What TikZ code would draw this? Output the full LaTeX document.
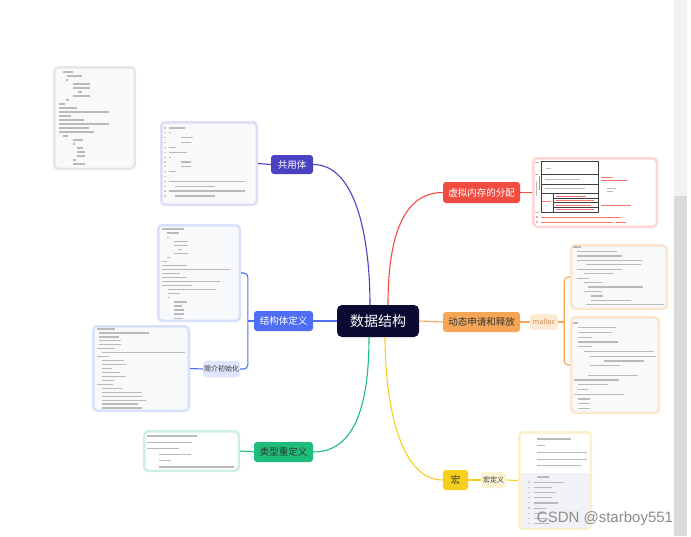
\documentclass[tikz,border=0pt]{standalone}
\usepackage{fontspec}
\setmainfont{Noto Sans CJK SC}
\newfontfamily\wmfont{Liberation Sans}
\definecolor{rootc}{HTML}{0A0A33}
\definecolor{cpur}{HTML}{4B42C3}
\definecolor{cblue}{HTML}{4D6EF5}
\definecolor{cgreen}{HTML}{1EBD7C}
\definecolor{cred}{HTML}{F24B3F}
\definecolor{corange}{HTML}{F5A556}
\definecolor{cyellow}{HTML}{F5D01E}
\definecolor{lblue}{HTML}{E0E6FD}
\definecolor{lorange}{HTML}{FDEBD6}
\definecolor{lyellow}{HTML}{FBF3D2}
\definecolor{bgray}{HTML}{E6E6EA}
\definecolor{bpur}{HTML}{DEDCF6}
\definecolor{bblue}{HTML}{D8E0FB}
\definecolor{bgreen}{HTML}{CFEFE1}
\definecolor{bred}{HTML}{FFD6D6}
\definecolor{borange}{HTML}{FDE6CF}
\definecolor{byellow}{HTML}{FBF1C8}
\definecolor{paper}{HTML}{F8F9FB}
\definecolor{codebg}{HTML}{F1F2F5}
\definecolor{ink}{HTML}{333333}
\definecolor{malloct}{HTML}{C98548}
\definecolor{sbar}{HTML}{F2F2F2}
\definecolor{sbarthumb}{HTML}{DADADA}
\newcommand{\codelines}[4]{\foreach \offs/\run [count=\i from 0] in {#4} {\draw[txt] ({#1+\offs},{#2+#3*\i}) -- ++(\run,0);}}
\newcommand{\codenums}[4]{\foreach \i in {1,...,#4} {\draw[num] (#1,{#2+#3*(\i-1)}) -- ++(2,0);}}

\begin{document}
\begin{tikzpicture}[x=1pt,y=-1pt,
  topic/.style={fill=#1,rounded corners=3pt,inner sep=0pt,minimum height=20pt,font=\fontsize{9.5}{11}\selectfont,text=white},
  sub/.style={fill=#1,rounded corners=3pt,inner sep=0pt,minimum height=16pt,font=\fontsize{7}{8}\selectfont,text=ink},
  shot/.style={draw=#1,fill=paper,line width=2.5pt,rounded corners=4pt,inner sep=0pt},
  link/.style={draw=#1,line width=1.1pt},
  txt/.style={draw=black!27,line width=1.2pt},
  num/.style={draw=black!20,line width=1.2pt},
  tbl/.style={draw=black!75,line width=0.5pt},
  rtxt/.style={draw=cred!75,line width=0.9pt}]
\useasboundingbox (0,0) rectangle (691,536);
\fill[white] (0,0) rectangle (691,536);
\fill[sbar] (674,0) rectangle (687,196);
\fill[sbarthumb] (674,196) rectangle (687,536);
\node[shot=bgray,minimum width=80.5pt,minimum height=101.5pt] (hintimg) at (94.5,118) {};
\node[shot=bpur,minimum width=95.5pt,minimum height=82.5pt] (gyimg) at (209,163.5) {};
\node[shot=bblue,minimum width=81.5pt,minimum height=95.5pt] (jgimg) at (199,273) {};
\node[shot=bblue,minimum width=95.5pt,minimum height=84.5pt] (csimg) at (141,368.5) {};
\node[shot=bgreen,fill=white,minimum width=94.5pt,minimum height=39.5pt] (lximg) at (191.5,451) {};
\node[shot=bred,fill=white,minimum width=123.5pt,minimum height=68.5pt] (xnimg) at (595,192.5) {};
\node[shot=borange,minimum width=95.5pt,minimum height=63.5pt] (mlimgA) at (619,277) {};
\node[shot=borange,minimum width=87.5pt,minimum height=95.5pt] (mlimgB) at (615,365) {};
\node[shot=byellow,fill=white,minimum width=71.5pt,minimum height=96.5pt] (hdimg) at (555,480.5) {};
\fill[codebg] (520.5,473) rectangle (589.5,528);
\codelines{59}{72}{4}{4/10,8/15,7/2,14/17,14/17,19/4,14/17,7/3,0/6,0/18,0/50,0/12,0/25,0/50,0/30,0/35,4/5,14/10,14/2,18/6,18/8,18/8,14/3,14/12}
\codenums{164}{128}{4.85}{15}
\codelines{169}{128}{4.85}{0/16,0/2,12/12,12/10,0/7,0/18,0/2,12/10,12/10,0/7,0/0,0/76,6/40,0/76,6/40}
\codelines{162}{229}{4.05}{0/22,5/12,5/2,12/14,12/14,16/4,12/14,5/3,0/5,0/25,0/68,0/18,0/25,0/58,0/30,6/48,6/12,6/2,12/13,12/8,12/10,12/10,12/9}
\codelines{97}{329}{3.95}{0/18,2/50,2/20,2/22,2/22,0/18,5/83,0/12,5/22,5/24,5/10,5/18,5/24,5/12,0/16,5/20,5/40,5/40,5/44,5/36,5/40}
\codelines{147}{436}{6.2}{0/50,0/45,0/32,12/32,12/12,12/75}
\codelines{573}{247}{4.45}{0/8,4/40,4/45,4/65,13/55,4/45,11/30,4/12,11/18,15/55,11/18,18/12,18/40,13/78}
\codelines{573}{323}{4.75}{0/5,5/38,5/34,5/14,5/40,5/14,11/70,17/66,31/40,17/30,0/0,15/50,1/45,5/30,5/10,1/50,5/12,5/12,5/12}
\codelines{537}{439}{6.7}{0/34,0/8,0/50,0/50,0/44}
\codenums{528}{482}{5.2}{9}
\codelines{534}{477}{5.2}{3/12,0/30,0/18,0/22,0/18,0/24,0/12,0/10,0/14,0/16}
\draw[tbl] (541,161) rectangle (598,212);
\foreach \y in {174,184,193} \draw[tbl] (541,\y) -- (598,\y);
\draw[tbl] (553,193) -- (553,212);
\foreach \y in {198,202,207} \draw[tbl] (553,\y) -- (598,\y);
\draw[txt,line width=0.8pt] (546,168) -- ++(5,0);
\draw[txt,line width=0.8pt] (545,179) -- ++(35,0);
\draw[txt,line width=0.8pt] (545,188) -- ++(40,0);
\draw[txt,line width=0.8pt] (535,162) -- ++(4,0) (535,174) -- ++(4,0) (535,212) -- ++(4,0) (536,181) -- (536,196);
\draw[rtxt] (539.5,176) -- (539.5,190);
\draw[rtxt] (542,201) -- ++(9,0) (556,196) -- ++(30,0) (556,200) -- ++(38,0) (556,205) -- ++(35,0) (556,209) -- ++(38,0);
\draw[rtxt] (601,177) -- ++(12,0) (601,180) -- ++(26,0) (601,205) -- ++(30,0);
\draw[txt,line width=0.8pt] (607,188) -- ++(9,0) (607,191) -- ++(6,0);
\draw[rtxt] (541,217) -- ++(80,0) (541,222) -- ++(72,0) (616,222) -- ++(10,0);
\fill[cred] (537,217) circle (0.9) (537,222) circle (0.9);
\node[fill=rootc,rounded corners=5pt,inner sep=0pt,minimum width=82pt,minimum height=32pt,text=white,font=\fontsize{14}{16}\selectfont] (root) at (378,321) {数据结构};
\node[topic=cpur,minimum width=42pt,minimum height=19pt] (gy) at (292,164.5) {共用体};
\node[topic=cblue,minimum width=59pt] (jg) at (283.5,321) {结构体定义};
\node[sub=lblue,minimum width=37pt] (cs) at (221.5,369) {简介初始化};
\node[topic=cgreen,minimum width=59pt,text=ink] (lx) at (283.5,452) {类型重定义};
\node[topic=cred,minimum width=77pt,minimum height=21pt] (xn) at (481.5,192.5) {虚拟内存的分配};
\node[topic=corange,minimum width=77pt,text=ink] (dt) at (481.5,322) {动态申请和释放};
\node[sub=lorange,minimum width=28pt,text=malloct] (ml) at (544,322) {malloc};
\node[topic=cyellow,minimum width=25pt,text=ink] (hong) at (455.5,480) {宏};
\node[sub=lyellow,minimum width=25pt] (hd) at (493.5,480) {宏定义};
\draw[link=cpur] ([xshift=-8pt]root.north) .. controls +(0,-60) and +(45,0) .. (gy.east);
\draw[link=cred] ([xshift=10pt]root.north) .. controls +(0,-55) and +(-45,0) .. (xn.west);
\draw[link=cgreen] ([xshift=-9pt]root.south) .. controls +(0,60) and +(45,0) .. (lx.east);
\draw[link=cyellow] ([xshift=7pt]root.south) .. controls +(0,60) and +(-45,0) .. (hong.west);
\draw[link=cblue] (root.west) -- (jg.east);
\draw[link=corange] (root.east) -- (dt.west);
\draw[link=cpur] (gy.west) -- (gyimg.east);
\draw[link=cblue] (jg.west) -- ++(-6,0);
\draw[link=cblue,rounded corners=4pt] (jgimg.east) -| ([xshift=-6pt]jg.west) |- (cs.east);
\draw[link=cblue] (cs.west) -- (csimg.east);
\draw[link=cgreen] (lx.west) -- (lximg.east);
\draw[link=cred] (xn.east) -- (xnimg.west);
\draw[link=corange] (dt.east) -- (ml.west);
\draw[link=corange] (ml.east) -- ++(6,0);
\draw[link=corange,rounded corners=4pt] (mlimgA.west) -| ([xshift=6pt]ml.east) |- (mlimgB.west);
\draw[link=cyellow] (hong.east) -- (hd.west);
\draw[link=cyellow] (hd.east) -- (hdimg.west);
\node[font=\wmfont\fontsize{15}{15}\selectfont,text=black!45,inner sep=0pt] (wm) at (605,519) {CSDN @starboy551};
\end{tikzpicture}
\end{document}
